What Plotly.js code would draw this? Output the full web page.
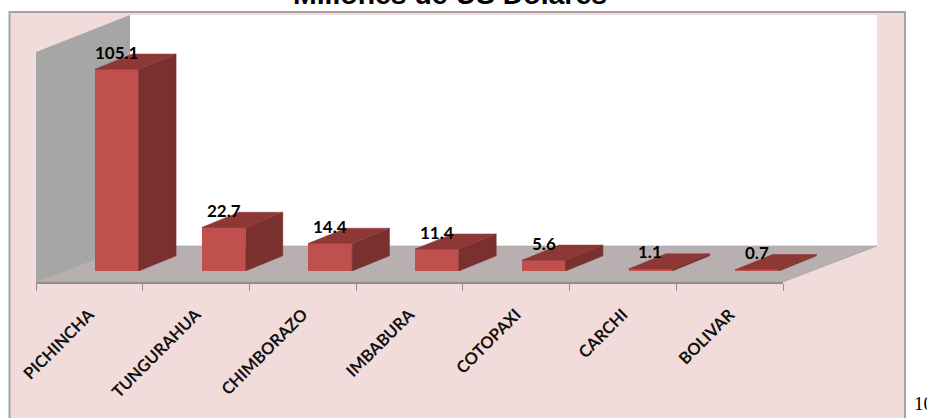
<!DOCTYPE html>
<html>
<head>
<meta charset="utf-8">
<script src="https://cdn.plot.ly/plotly-3.0.0.min.js"></script>
<style>html,body{margin:0;padding:0;background:#fff;overflow:hidden}#chart{width:927px;height:418px}</style>
</head>
<body>
<div id="chart"></div>
<script>
const categories = ["PICHINCHA","TUNGURAHUA","CHIMBORAZO","IMBABURA","COTOPAXI","CARCHI","BOLIVAR"];
const values = [105.1,22.7,14.4,11.4,5.6,1.1,0.7];
const valueLabels = ["105.1","22.7","14.4","11.4","5.6","1.1","0.7"];
const chartTitle = "Millones de US Dolares";
const W = 927, H = 418;
const px = x => x / W, py = y => 1 - y / H;

// projection of the 3D box, in category units / value units
const barWidth = 0.41, depthX = 0.35, depthY = 7.9;
const index = categories.map((_, i) => i);

function faces(build) {
  const xs = [], ys = [];
  values.forEach((v, i) => {
    const f = build(i, v);
    xs.push(...f.x, f.x[0], null);
    ys.push(...f.y, f.y[0], null);
  });
  return {x: xs, y: ys};
}
const side = faces((i, v) => ({
  x: [i + barWidth/2, i + barWidth/2 + depthX, i + barWidth/2 + depthX, i + barWidth/2],
  y: [0, depthY, v + depthY, v]
}));
const top_ = faces((i, v) => ({
  x: [i - barWidth/2, i + barWidth/2, i + barWidth/2 + depthX, i - barWidth/2 + depthX],
  y: [v, v, v + depthY, v + depthY]
}));

const traces = [
  {type:'scatter', mode:'markers', x:categories, y:values.map(()=>0), xaxis:'x', yaxis:'y',
   marker:{opacity:0}, hoverinfo:'skip', showlegend:false},
  {type:'scatter', mode:'lines', x:side.x, y:side.y, xaxis:'x2', yaxis:'y2', fill:'toself',
   fillcolor:'#79302e', line:{width:0.5,color:'#79302e'}, hoverinfo:'skip', showlegend:false},
  {type:'scatter', mode:'lines', x:top_.x, y:top_.y, xaxis:'x2', yaxis:'y2', fill:'toself',
   fillcolor:'#8e3836', line:{width:0.5,color:'#8e3836'}, hoverinfo:'skip', showlegend:false},
  {type:'bar', x:index, y:values, width:barWidth, xaxis:'x2', yaxis:'y2',
   marker:{color:'#c0504d'}, hoverinfo:'skip', showlegend:false}
];

function poly(points, fill, edge) {
  return {type:'path', xref:'paper', yref:'paper', layer:'below',
    path:'M' + points.map(p => px(p[0]) + ',' + py(p[1])).join('L') + 'Z',
    fillcolor:fill, line:edge ? {width:0.6, color:edge} : {width:0}};
}

const layout = {
  width:W, height:H, margin:{l:0,r:0,t:0,b:0},
  paper_bgcolor:'#ffffff', plot_bgcolor:'rgba(0,0,0,0)', showlegend:false, bargap:0,
  title:{text:chartTitle, x:450/W, xanchor:'center', y:1, yanchor:'bottom', pad:{b:-4},
         font:{family:'Liberation Sans', size:28.4, color:'#000', weight:700}},
  xaxis:{type:'category', domain:[px(36),px(783)], range:[-0.5,6.5], categoryorder:'array', categoryarray:categories,
         tickson:'boundaries', showline:true, linecolor:'#8f8f8f', linewidth:1.5, ticks:'outside', ticklen:7,
         tickcolor:'#8f8f8f', tickwidth:1, tickangle:-45, ticklabelstandoff:15, showgrid:false, zeroline:false,
         tickfont:{family:'Lato', size:16.5, color:'#111', weight:700}, anchor:'y'},
  yaxis:{domain:[py(282),py(100)], range:[0,1], visible:false, fixedrange:true},
  // the bars stand mid-depth on the floor; one extra category of room keeps the last box from being clipped
  xaxis2:{domain:[px(63.5),px(63.5+747*7.5/7)], range:[-0.5,7], visible:false, anchor:'y2'},
  yaxis2:{domain:[py(271),py(20)], range:[0,(271-20)/1.92], visible:false, anchor:'x2'},
  shapes:[
    {type:'rect', xref:'paper', yref:'paper', layer:'below', x0:px(9.5), x1:px(905), y0:py(12), y1:py(440),
     fillcolor:'#f2dcdb', line:{color:'#a3a3a3', width:2}},
    {type:'rect', xref:'paper', yref:'paper', layer:'below', x0:px(130), x1:px(877), y0:py(15), y1:py(246),
     fillcolor:'#ffffff', line:{width:0}},
    poly([[36,52],[130,15],[130,246],[36,282]], '#a6a6a6'),
    poly([[36,282],[130,246],[877,246],[783,282]], '#b8b0b0', '#a0a0a0')
  ],
  annotations: valueLabels.map((t,i) => ({
    text:t, xref:'x2', yref:'y2', x:index[i], y:values[i], yshift:17, showarrow:false,
    xanchor:'center', yanchor:'middle', font:{family:'Lato', size:17, color:'#000', weight:700}
  })).concat([{
    text:'10', xref:'paper', yref:'paper', x:px(912), y:py(403), showarrow:false, xanchor:'left', yanchor:'middle',
    font:{family:'Liberation Serif', size:19, color:'#000'}
  }])
};
Plotly.newPlot('chart', traces, layout, {staticPlot:true, displayModeBar:false});
</script>
</body>
</html>
